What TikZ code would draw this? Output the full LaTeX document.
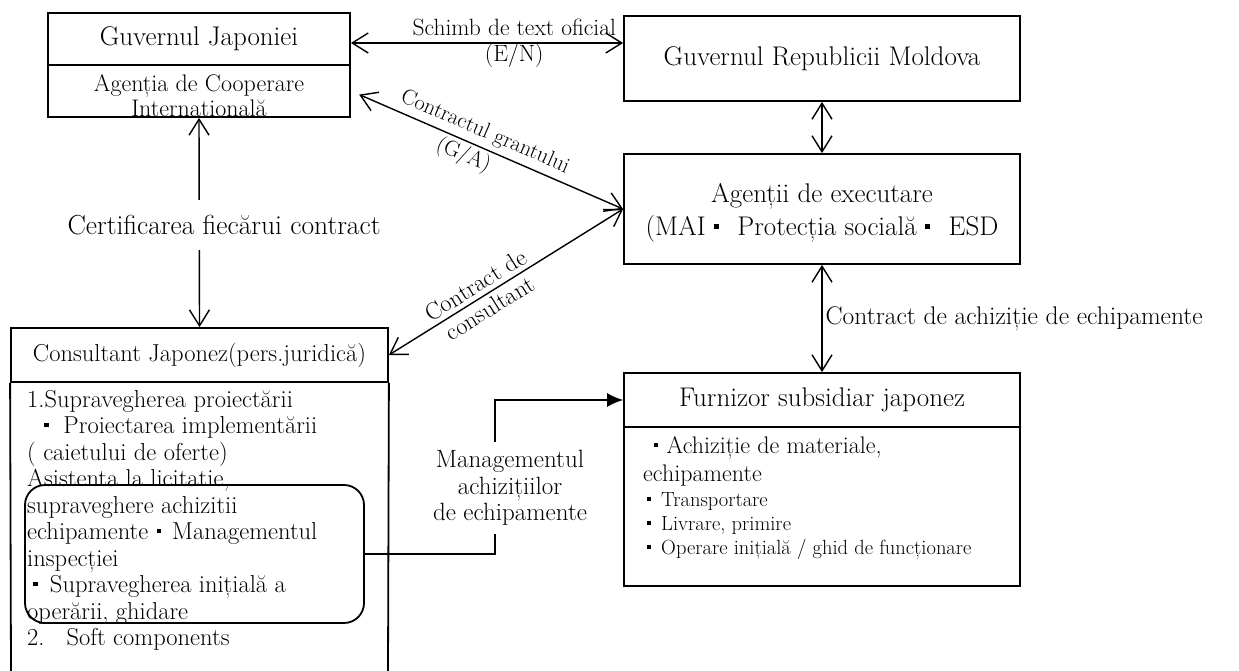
\documentclass[tikz,border=0pt]{standalone}
\usepackage{fontspec}
\usetikzlibrary{arrows.meta}

\newcommand{\kdot}[2]{\hspace*{#1}\rule[0.26em]{0.18em}{0.18em}\hspace*{#2}}

\tikzset{
  box/.style={draw, line width=1.8pt, inner sep=0pt},
  twoway/.style={line width=1.4pt, {Straight Barb[length=16pt,width=20pt]}-{Straight Barb[length=16pt,width=20pt]}},
  ftitle/.style={font=\fontsize{27}{33}\selectfont},
  ftext/.style={font=\fontsize{24.5}{26.5}\selectfont},
  fsmall/.style={font=\fontsize{20.5}{24}\selectfont},
}

\begin{document}
\begin{tikzpicture}[x=1pt,y=-1pt]
\useasboundingbox (0,0) rectangle (1239,671);

\def\xl{199};
\def\xr{822};
\def\wl{302pt};
\def\wr{396pt};

% left column
\node[box, ftitle, minimum width=\wl, minimum height=52pt] (gjT) at (\xl,39) {Guvernul Japoniei};
\node[box, minimum width=\wl, minimum height=52pt] (gjB) at (\xl,91) {};
\node[font=\fontsize{24}{25}\selectfont, align=center] (gjA) at (\xl,96) {Agenția de Cooperare\\Internatională};

\node[box, font=\fontsize{24.5}{26}\selectfont, minimum width=377pt, minimum height=54pt] (cjT) at (199.5,355) {Consultant Japonez(pers.juridică)};
\coordinate (cjBL) at (11,673);
\coordinate (cjBR) at (388,673);
\draw[line width=1.8pt] (cjT.south west) -- (cjBL);
\draw[line width=1.8pt] (cjT.south east) -- (cjBR);

\node[ftext, align=left, anchor=north west, inner sep=0pt] (cjList) at (27,390) {1.Supravegherea proiectării\\
\kdot{0.7em}{0.6em}Proiectarea implementării\\
( caietului de oferte)\\
Asistenta la licitatie,\\
supraveghere achizitii\\
echipamente\kdot{0.35em}{0.45em}Managementul\\
inspecției\\
\kdot{0.25em}{0.5em}Supravegherea inițială a\\
operării, ghidare\\
2.\hspace{0.9em}Soft components};

\node[draw, line width=1.8pt, rounded corners=20pt, minimum width=339pt, minimum height=138pt] (mgBox) at (194.5,554) {};

% right column
\node[box, ftitle, minimum width=\wr, minimum height=85pt] (grm) at (\xr,58.5) {Guvernul Republicii Moldova};
\node[box, minimum width=\wr, minimum height=110pt] (ag) at (\xr,209) {};
\node[ftitle, align=center] (agTxt) at (\xr,213) {Agenții de executare\\(MAI\kdot{0.3em}{0.7em}Protecția socială\kdot{0.3em}{0.7em}ESD};

\node[box, ftitle, minimum width=\wr, minimum height=54pt] (fuT) at (\xr,400) {Furnizor subsidiar japonez};
\node[box, minimum width=\wr, minimum height=159pt] (fuB) at (\xr,506.5) {};
\node[font=\fontsize{24}{28}\selectfont, align=left, anchor=north west, inner sep=0pt] (fuList) at (643,436) {\kdot{0.45em}{0.35em}Achiziție de materiale,\\echipamente};
\node[fsmall, align=left, anchor=north west, inner sep=0pt] (fuSub) at (643,492) {\kdot{0.2em}{0.5em}Transportare\\
\kdot{0.2em}{0.5em}Livrare, primire\\
\kdot{0.2em}{0.5em}Operare inițială / ghid de funcționare};

% connectors
\draw[twoway] ([yshift=-4pt]gjT.east) -- ([yshift=-4pt]gjT.east -| grm.west)
  node[pos=0.6, font=\fontsize{23.5}{26}\selectfont, align=center] (enLbl) {Schimb de text oficial\\(E/N)};
\draw[twoway, shorten <=9pt] (gjB.east) -- (ag.west)
  node[pos=0.47, sloped, font=\fontsize{22}{30}\selectfont, align=center] (gaLbl) {Contractul grantului\\(G/A)\phantom{xx}};
\draw[twoway] (cjT.east) -- (ag.west)
  node[pos=0.4, sloped, font=\fontsize{24}{27}\selectfont, align=center] (ccLbl) {Contract de\\consultant};

\draw[twoway] (gjB.south) -- (cjT.north);
\node[fill=white, font=\fontsize{27.5}{30}\selectfont, inner xsep=2pt, inner ysep=15pt] (certLbl) at (224,225) {Certificarea fiecărui contract};

\draw[twoway] (grm.south) -- (ag.north);
\draw[twoway] (ag.south) -- (fuT.north)
  node[midway, right, font=\fontsize{25.5}{30}\selectfont, inner sep=3pt] (eqLbl) {Contract de achiziție de echipamente};

\coordinate (mgTurn) at (495,554);
\draw[line width=1.4pt, -{Latex[length=16pt,width=14pt]}] (mgBox.east) -- (mgTurn) |- (fuT.west);
\node[fill=white, font=\fontsize{25}{26.5}\selectfont, align=center, inner ysep=8pt] (mgLbl) at (510,488) {Managementul\\achizițiilor\\de echipamente};

\end{tikzpicture}
\end{document}
